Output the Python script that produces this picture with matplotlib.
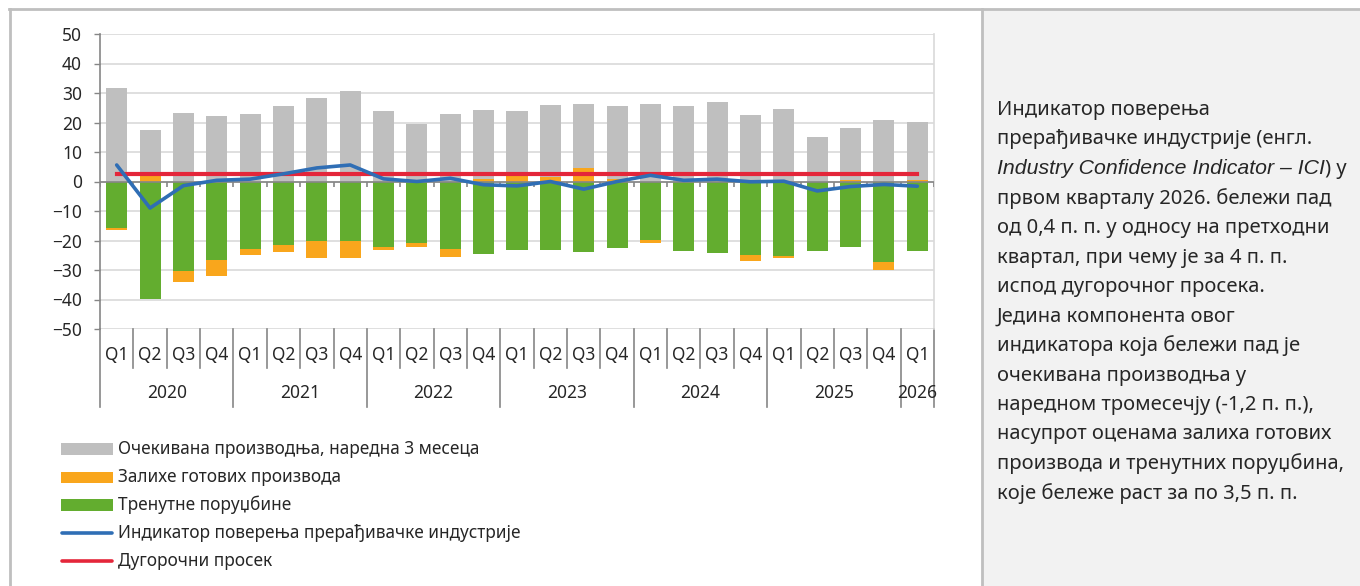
import matplotlib
matplotlib.use("Agg")
import matplotlib.pyplot as plt
from matplotlib.patches import Rectangle
from matplotlib.lines import Line2D
from matplotlib.transforms import blended_transform_factory
import numpy as np

plt.rcParams['font.family'] = ['Noto Sans', 'DejaVu Sans']

quarters = ["Q1", "Q2", "Q3", "Q4"] * 6 + ["Q1"]
years = ["2020", "2021", "2022", "2023", "2024", "2025", "2026"]
expected_production = [31.6, 15.5, 23.1, 22.3, 23.0, 25.6, 28.3, 30.6, 23.8, 19.5, 22.9, 23.2,
                       22.0, 24.5, 21.6, 24.8, 26.4, 25.6, 27.0, 22.6, 24.5, 15.0, 17.6, 20.7, 19.6]
finished_stocks = [-1.0, 2.0, -3.6, -5.5, -2.0, -2.6, -5.5, -5.9, -1.0, -1.4, -2.8, 1.0,
                   2.0, 1.6, 4.7, 0.8, -1.2, 0.0, 0.0, -1.9, -0.9, 0.0, 0.6, -2.8, 0.6]
current_orders = [-15.6, -39.8, -30.5, -26.7, -22.8, -21.4, -20.3, -20.0, -22.1, -20.7, -22.8, -24.6,
                  -23.3, -23.3, -24.0, -22.7, -19.8, -23.6, -24.3, -24.9, -25.2, -23.5, -22.3, -27.2, -23.7]
ici = [5.6, -9.0, -1.4, 0.4, 0.8, 2.6, 4.6, 5.6, 0.9, 0.0, 1.1, -1.1,
       -1.5, 0.0, -2.6, 0.0, 2.1, 0.4, 0.8, -0.1, 0.1, -3.2, -1.7, -1.0, -1.6]
long_term_avg = 2.7

legend_labels = ["Очекивана производња, наредна 3 месеца", "Залихе готових производа",
                 "Тренутне поруџбине", "Индикатор поверења прерађивачке индустрије",
                 "Дугорочни просек"]

GRAY, ORANGE, GREEN, BLUE, RED = "#BFBFBF", "#F9A61C", "#63AD2F", "#2F6EB5", "#E4263A"
TXT = "#262626"

W, H = 1360, 586
fig = plt.figure(figsize=(W / 100, H / 100), dpi=100)

def fx(px):
    return px / W

def fy(py):
    return 1 - py / H

# panels / borders
fig.patches.append(Rectangle((fx(983), 0), fx(W - 983), fy(10), transform=fig.transFigure,
                             facecolor="#F2F2F2", edgecolor="none", zorder=0))
fig.lines.append(Line2D([fx(9), 1], [fy(9), fy(9)], transform=fig.transFigure, color="#BFBFBF", lw=2))
fig.lines.append(Line2D([fx(10), fx(10)], [0, fy(9)], transform=fig.transFigure, color="#BFBFBF", lw=2))
fig.lines.append(Line2D([fx(982), fx(982)], [0, fy(9)], transform=fig.transFigure, color="#BFBFBF", lw=2))

ax = fig.add_axes([fx(100), fy(329), fx(934 - 100), fy(34) - fy(329)])
n = len(quarters)
x = np.arange(n)
bw = 0.63

pos_orange = np.clip(finished_stocks, 0, None)
neg_orange = np.clip(finished_stocks, None, 0)
orders = np.array(current_orders)

ax.bar(x, current_orders, bw, color=GREEN, zorder=2)
ax.bar(x, neg_orange, bw, bottom=orders, color=ORANGE, zorder=2)
ax.bar(x, pos_orange, bw, color=ORANGE, zorder=2)
ax.bar(x, expected_production, bw, bottom=pos_orange, color=GRAY, zorder=2)
ax.plot(x, ici, color=BLUE, lw=2.6, zorder=4, solid_capstyle="round", solid_joinstyle="round")
ax.plot([x[0], x[-1]], [long_term_avg, long_term_avg], color=RED, lw=3.0, zorder=3)

ax.set_xlim(-0.5, n - 0.5)
ax.set_ylim(-50, 50)
ax.set_yticks(np.arange(-50, 51, 10))
ax.yaxis.grid(True, color="#D9D9D9", lw=1.2, zorder=0)
ax.set_axisbelow(True)
ax.set_xticks([])
ax.tick_params(axis="y", direction="out", length=4, width=1, color="#868686",
               labelsize=12.5, labelcolor=TXT, pad=9)
for s in ["top", "bottom"]:
    ax.spines[s].set_visible(False)
ax.spines["right"].set_color("#D9D9D9")
ax.spines["right"].set_linewidth(1.2)
ax.spines["left"].set_color("#868686")
ax.spines["left"].set_linewidth(1.2)

# zero axis line with ticks
ax.axhline(0, color="#868686", lw=1.2, zorder=3)
bounds = np.arange(-0.5, n, 1.0)
ax.vlines(bounds, -1.7, 0, color="#868686", lw=1.2, zorder=3)

# category label area
tr = blended_transform_factory(ax.transData, ax.transAxes)
yq = (329 - 368) / 295
yy = (329 - 407) / 295
for i, b in enumerate(bounds):
    ybot = yy if (i % 4 == 0 or i == n) else yq
    ax.plot([b, b], [0, ybot], transform=tr, color="#868686", lw=1.2, clip_on=False)
for i, q in enumerate(quarters):
    ax.text(i, (329 - 355) / 295, q, transform=tr, ha="center", va="center",
            fontsize=12.5, color=TXT)
for k, yr in enumerate(years):
    start = 4 * k
    end = min(4 * k + 3, n - 1)
    ax.text((start + end) / 2, (329 - 393) / 295, yr, transform=tr, ha="center", va="center",
            fontsize=12.5, color=TXT)

# legend
ly = [449, 477, 505, 533, 561]
colors = [GRAY, ORANGE, GREEN, BLUE, RED]
for i, (lab, c) in enumerate(zip(legend_labels, colors)):
    if i < 3:
        fig.patches.append(Rectangle((fx(61), fy(ly[i] + 5.5)), fx(52), fy(ly[i] - 5.5) - fy(ly[i] + 5.5),
                                     transform=fig.transFigure, facecolor=c, edgecolor="none"))
    else:
        fig.lines.append(Line2D([fx(62), fx(112)], [fy(ly[i]), fy(ly[i])], transform=fig.transFigure,
                                color=c, lw=2.6, solid_capstyle="round"))
    fig.text(fx(118), fy(ly[i]), lab, ha="left", va="center", fontsize=12.4, color=TXT)

# right text panel
lines = ["Индикатор поверења",
         "прерађивачке индустрије (енгл.",
         None,
         "првом кварталу 2026. бележи пад",
         "од 0,4 п. п. у односу на претходни",
         "квартал, при чему је за 4 п. п.",
         "испод дугорочног просека.",
         "Једина компонента овог",
         "индикатора која бележи пад је",
         "очекивана производња у",
         "наредном тромесечју (-1,2 п. п.),",
         "насупрот оценама залиха готових",
         "производа и тренутних поруџбина,",
         "које бележе раст за по 3,5 п. п."]
tfs = 14.5
y0, dy = 110, 29.5
fig.canvas.draw()
renderer = fig.canvas.get_renderer()
for i, ln in enumerate(lines):
    yy_ = fy(y0 + i * dy)
    if ln is not None:
        fig.text(fx(997), yy_, ln, ha="left", va="center", fontsize=tfs, color=TXT)
    else:
        t1 = fig.text(fx(997), yy_, "Industry Confidence Indicator – ICI", ha="left", va="center",
                      fontsize=15.3, color=TXT, style="italic",
                      family=["Liberation Sans", "DejaVu Sans"])
        bb = t1.get_window_extent(renderer)
        fig.text(bb.x1 / W, yy_, ") у", ha="left", va="center", fontsize=tfs, color=TXT)

fig.savefig("out.png", dpi=100)
